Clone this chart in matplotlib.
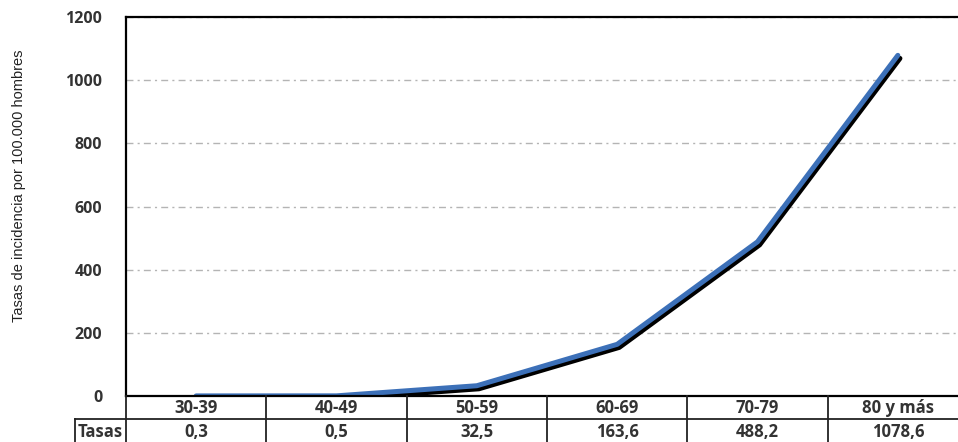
import matplotlib.pyplot as plt
import matplotlib.patheffects as pe

# data
grupos = ["30-39", "40-49", "50-59", "60-69", "70-79", "80 y más"]
tasas = [0.3, 0.5, 32.5, 163.6, 488.2, 1078.6]
tasas_txt = ["0,3", "0,5", "32,5", "163,6", "488,2", "1078,6"]
yticks = [0, 200, 400, 600, 800, 1000, 1200]

W, H = 958, 442
fig = plt.figure(figsize=(W / 100, H / 100), dpi=100)

# main plot area (right edge is cut off by the figure, like the original)
left, right, top, bottom = 126, 968, 17, 396
ax = fig.add_axes([left / W, (H - bottom) / H, (right - left) / W, (bottom - top) / H])

x = list(range(len(grupos)))
ax.plot(x, tasas, color="#3c70b8", lw=3.6, solid_capstyle="round",
        path_effects=[pe.SimpleLineShadow(offset=(1.5, -2.2), shadow_color="black", alpha=1.0),
                      pe.Normal()])

ax.set_xlim(-0.5, len(grupos) - 0.5)
ax.set_ylim(0, 1200)
ax.set_yticks(yticks)
ax.set_yticklabels([str(v) for v in yticks], fontfamily="Open Sans", fontweight="bold",
                   fontsize=11.5, color="#333333")
ax.set_xticks([])
ax.tick_params(axis="y", length=0, pad=17)
ax.yaxis.grid(True, color="#b4b4b4", lw=1, linestyle=(0, (5, 3, 1.5, 3)))
ax.set_axisbelow(True)
for s in ["top", "bottom", "left", "right"]:
    ax.spines[s].set_color("black")
    ax.spines[s].set_linewidth(1.6)

fig.text(19 / W, 1 - 186 / H, "Tasas de incidencia por 100.000 hombres", rotation=90,
         ha="center", va="center", fontsize=10.5,
         family=["Liberation Sans Narrow", "Liberation Sans", "DejaVu Sans"], color="#222222")

# data table under the axis
tab = fig.add_axes([left / W, 0, (right - left) / W, (H - bottom) / H])
tab.set_xlim(-0.5, len(grupos) - 0.5)
tab.set_ylim(0, 2)
tab.axis("off")
col_w = (right - left) / len(grupos)
lab_left = -0.5 - (left - 75) / col_w
tab.plot([lab_left, len(grupos) - 0.5], [1, 1], color="#222222", lw=1.3, clip_on=False)
tab.plot([lab_left, lab_left], [0, 1], color="#222222", lw=1.3, clip_on=False)
for i in range(len(grupos) + 1):
    tab.plot([i - 0.5, i - 0.5], [0, 2], color="#222222", lw=1.3, clip_on=False)
txt = dict(ha="center", va="center", fontfamily="Open Sans", fontweight="bold",
           fontsize=12, color="#333333")
for i, g in enumerate(grupos):
    tab.text(i, 1.48, g, **txt)
    tab.text(i, 0.42, tasas_txt[i], **txt)
tab.text((lab_left - 0.5) / 2, 0.42, "Tasas", clip_on=False, **txt)

fig.savefig("out.png", dpi=100)
